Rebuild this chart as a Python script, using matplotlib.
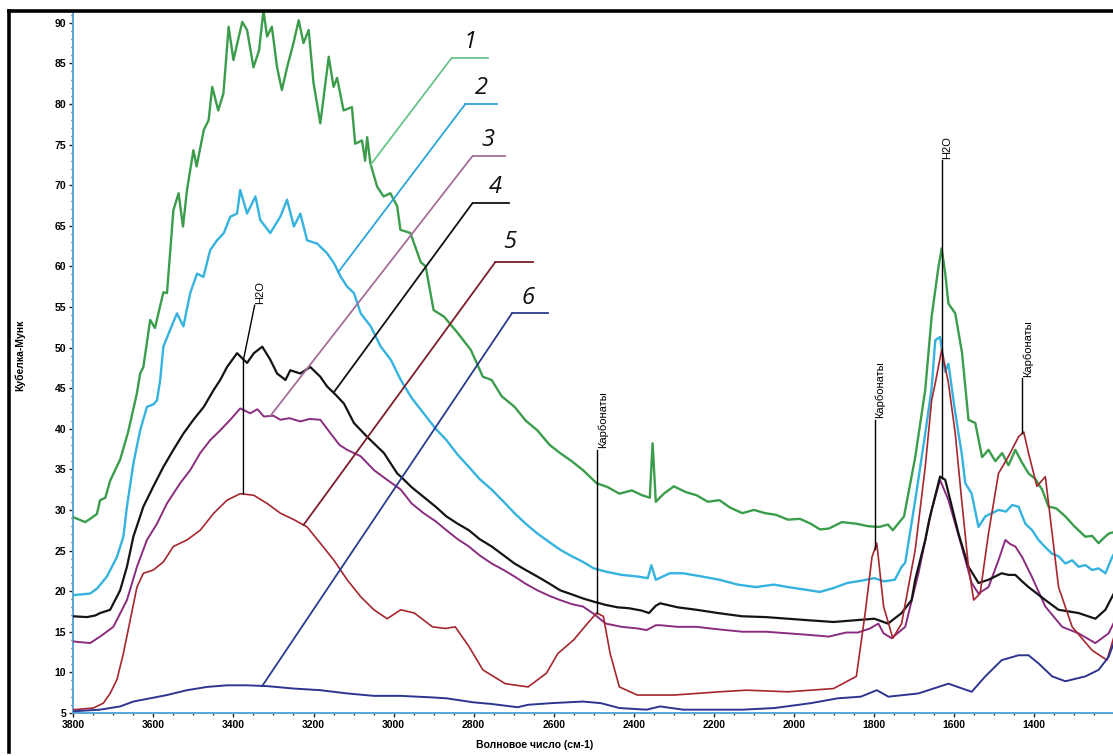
"""
DRIFT spectra (Kubelka-Munk) of six samples with the water and carbonate bands marked.
"""
import numpy as np
import matplotlib

matplotlib.use("Agg")
import matplotlib.pyplot as plt
from matplotlib.lines import Line2D
from matplotlib.ticker import MultipleLocator


OUTPUT = "out.png"
W_PX, H_PX = 1113, 756

# curve 1 (green)
WN_1 = [3800, 3770, 3755, 3741, 3733, 3720, 3708, 3683, 3663, 3641, 3633, 3625, 3608, 3596,
        3575, 3566, 3550, 3537, 3526, 3516, 3500, 3492, 3474, 3462, 3453, 3438, 3425, 3412,
        3400, 3378, 3366, 3350, 3336, 3325, 3316, 3304, 3291, 3279, 3266, 3250, 3237, 3225,
        3212, 3200, 3183, 3162, 3150, 3141, 3125, 3104, 3096, 3079, 3071, 3066, 3058, 3041,
        3025, 3008, 2991, 2983, 2958, 2932, 2920, 2900, 2874, 2840, 2807, 2777, 2755, 2730,
        2698, 2670, 2641, 2610, 2584, 2555, 2527, 2493, 2465, 2436, 2405, 2379, 2360, 2353,
        2345, 2325, 2300, 2270, 2243, 2215, 2186, 2160, 2129, 2100, 2072, 2045, 2015, 1985,
        1958, 1935, 1913, 1880, 1844, 1815, 1787, 1765, 1753, 1725, 1697, 1672, 1656, 1639,
        1631, 1622, 1614, 1597, 1580, 1564, 1547, 1530, 1514, 1497, 1480, 1464, 1447, 1430,
        1414, 1397, 1380, 1364, 1345, 1322, 1300, 1272, 1255, 1239, 1225, 1213, 1198]
KM_1 = [29.1, 28.5, 29.0, 29.5, 31.2, 31.5, 33.6, 36.2, 39.6, 44.4, 46.8, 47.6, 53.4, 52.4,
        56.8, 56.7, 66.9, 69.0, 64.9, 69.4, 74.3, 72.3, 76.8, 78.0, 82.1, 79.2, 81.3, 89.5,
        85.4, 90.1, 89.1, 84.5, 86.6, 91.5, 88.3, 89.5, 84.5, 81.7, 84.5, 87.5, 90.3, 87.5,
        89.1, 82.6, 77.6, 85.8, 82.1, 83.2, 79.2, 79.6, 75.1, 75.5, 73.0, 75.9, 72.7, 69.8,
        68.6, 69.0, 67.4, 64.5, 64.1, 60.5, 60.0, 54.6, 53.8, 51.8, 49.7, 46.4, 46.0, 44.0,
        42.7, 41.0, 39.8, 38.0, 37.0, 36.0, 34.9, 33.3, 32.8, 32.0, 32.4, 31.8, 31.5, 38.2,
        31.0, 32.0, 32.9, 32.2, 31.8, 31.0, 31.2, 30.3, 29.6, 30.0, 29.6, 29.4, 28.8, 28.9,
        28.3, 27.6, 27.7, 28.5, 28.3, 28.0, 27.9, 28.2, 27.5, 29.2, 36.5, 44.8, 53.8, 59.9,
        62.2, 59.1, 55.4, 54.2, 49.3, 41.1, 40.7, 36.5, 37.4, 36.0, 37.0, 35.5, 37.4, 35.8,
        34.5, 33.8, 32.5, 30.4, 30.2, 29.2, 28.0, 26.7, 26.8, 25.9, 26.6, 27.1, 27.3]

# curve 2 (light blue)
WN_2 = [3800, 3758, 3741, 3716, 3691, 3675, 3666, 3650, 3633, 3616, 3600, 3591, 3583, 3575,
        3558, 3541, 3525, 3508, 3491, 3475, 3458, 3441, 3424, 3408, 3391, 3383, 3366, 3345,
        3333, 3308, 3283, 3266, 3249, 3233, 3216, 3191, 3166, 3149, 3132, 3116, 3099, 3082,
        3057, 3032, 3007, 2982, 2955, 2925, 2895, 2868, 2840, 2812, 2785, 2755, 2725, 2698,
        2670, 2641, 2610, 2584, 2555, 2527, 2500, 2470, 2430, 2391, 2365, 2356, 2345, 2310,
        2277, 2230, 2186, 2140, 2095, 2050, 2015, 1975, 1935, 1900, 1867, 1830, 1799, 1775,
        1748, 1731, 1722, 1697, 1672, 1656, 1647, 1635, 1622, 1614, 1600, 1589, 1581, 1572,
        1556, 1539, 1522, 1505, 1489, 1470, 1455, 1439, 1422, 1405, 1389, 1372, 1355, 1339,
        1322, 1305, 1289, 1272, 1255, 1239, 1222, 1205, 1198]
KM_2 = [19.5, 19.7, 20.3, 21.8, 24.2, 26.7, 30.4, 35.7, 39.8, 42.7, 43.0, 43.5, 46.0, 50.1,
        52.2, 54.2, 52.6, 56.7, 59.1, 58.7, 62.0, 63.2, 64.1, 66.1, 66.5, 69.4, 66.5, 68.6,
        65.7, 64.1, 66.1, 68.2, 64.9, 66.5, 63.2, 62.8, 61.6, 60.4, 58.7, 57.5, 56.7, 54.2,
        52.6, 50.1, 48.5, 46.0, 43.8, 41.9, 40.0, 38.6, 36.8, 35.3, 33.8, 32.5, 31.0, 29.6,
        28.3, 27.1, 26.0, 25.1, 24.3, 23.6, 22.8, 22.4, 22.0, 21.8, 21.6, 23.2, 21.4, 22.2,
        22.2, 21.8, 21.4, 20.8, 20.5, 20.8, 20.5, 20.2, 19.9, 20.4, 21.0, 21.3, 21.6, 21.2,
        21.4, 23.0, 23.5, 31.2, 39.4, 45.0, 50.9, 51.3, 47.0, 48.0, 43.0, 39.4, 37.0, 33.3,
        32.0, 27.9, 29.2, 29.6, 30.0, 29.8, 30.6, 30.4, 28.3, 27.5, 26.3, 25.4, 24.6, 24.3,
        23.4, 23.8, 23.0, 23.2, 22.6, 22.8, 22.2, 24.2, 24.8]

# curve 3 (purple)
WN_3 = [3800, 3758, 3733, 3700, 3666, 3641, 3616, 3591, 3566, 3533, 3508, 3483, 3458, 3433,
        3408, 3383, 3358, 3340, 3324, 3300, 3283, 3260, 3233, 3210, 3183, 3157, 3135, 3116,
        3082, 3049, 3016, 2982, 2955, 2925, 2895, 2868, 2840, 2812, 2785, 2755, 2725, 2698,
        2670, 2641, 2610, 2584, 2555, 2527, 2500, 2470, 2430, 2390, 2368, 2345, 2334, 2290,
        2243, 2190, 2129, 2070, 2015, 1960, 1913, 1870, 1840, 1810, 1789, 1776, 1756, 1722,
        1689, 1656, 1635, 1614, 1581, 1556, 1539, 1514, 1489, 1472, 1460, 1447, 1430, 1406,
        1372, 1330, 1289, 1247, 1214, 1198]
KM_3 = [13.8, 13.6, 14.4, 15.6, 18.9, 23.0, 26.3, 28.3, 30.8, 33.3, 34.9, 37.0, 38.6, 39.8,
        41.1, 42.5, 41.9, 42.4, 41.5, 41.6, 41.1, 41.3, 40.9, 41.2, 41.1, 39.4, 38.0, 37.4,
        36.6, 34.9, 33.7, 32.5, 30.8, 29.6, 28.6, 27.5, 26.4, 25.5, 24.4, 23.4, 22.6, 21.8,
        20.9, 20.1, 19.4, 18.9, 18.4, 18.1, 17.2, 16.0, 15.6, 15.4, 15.2, 15.8, 15.8, 15.6,
        15.6, 15.3, 15.0, 15.0, 14.8, 14.6, 14.4, 14.9, 14.9, 15.4, 16.0, 14.8, 14.2, 15.6,
        22.2, 30.0, 33.7, 31.2, 25.5, 21.0, 19.7, 20.5, 23.8, 26.3, 25.8, 25.5, 24.2, 21.8,
        18.1, 15.6, 14.8, 13.6, 14.8, 16.4]

# curve 4 (black)
WN_4 = [3800, 3766, 3745, 3733, 3708, 3683, 3666, 3650, 3625, 3600, 3575, 3550, 3525, 3500,
        3474, 3449, 3433, 3416, 3391, 3366, 3349, 3328, 3308, 3291, 3270, 3258, 3233, 3208,
        3183, 3166, 3145, 3124, 3099, 3066, 3024, 2991, 2982, 2955, 2925, 2895, 2868, 2840,
        2812, 2785, 2755, 2725, 2698, 2670, 2641, 2610, 2584, 2555, 2527, 2500, 2470, 2440,
        2413, 2380, 2362, 2345, 2334, 2290, 2243, 2190, 2129, 2070, 2015, 1960, 1901, 1850,
        1799, 1765, 1731, 1706, 1697, 1672, 1662, 1635, 1622, 1589, 1564, 1539, 1514, 1481,
        1464, 1447, 1430, 1414, 1372, 1339, 1289, 1247, 1222, 1201]
KM_4 = [16.9, 16.8, 17.0, 17.3, 17.7, 20.1, 23.0, 26.7, 30.4, 32.9, 35.3, 37.4, 39.4, 41.1,
        42.7, 44.8, 46.0, 47.6, 49.3, 48.1, 49.3, 50.1, 48.5, 46.8, 46.0, 47.2, 46.8, 47.6,
        46.4, 45.2, 44.2, 43.1, 40.7, 39.0, 37.0, 34.5, 34.1, 32.8, 31.6, 30.4, 29.2, 28.3,
        27.5, 26.4, 25.5, 24.4, 23.4, 22.6, 21.8, 20.9, 20.1, 19.6, 19.1, 18.7, 18.3, 18.0,
        17.9, 17.6, 17.3, 18.2, 18.5, 18.0, 17.7, 17.3, 16.9, 16.8, 16.6, 16.4, 16.2, 16.4,
        16.6, 16.0, 17.3, 18.9, 21.4, 26.3, 28.8, 34.1, 33.7, 27.1, 23.0, 21.0, 21.4, 22.2,
        22.0, 22.0, 21.2, 20.5, 18.9, 17.7, 17.3, 16.6, 17.7, 19.7]

# curve 5 (dark red)
WN_5 = [3800, 3750, 3725, 3708, 3691, 3675, 3658, 3641, 3625, 3600, 3575, 3550, 3516, 3483,
        3449, 3416, 3383, 3349, 3316, 3283, 3249, 3216, 3183, 3149, 3116, 3082, 3049, 3016,
        2982, 2948, 2903, 2870, 2846, 2812, 2777, 2721, 2664, 2618, 2590, 2550, 2516, 2493,
        2476, 2459, 2436, 2391, 2300, 2186, 2118, 2015, 1901, 1844, 1822, 1805, 1793, 1776,
        1753, 1731, 1697, 1672, 1656, 1647, 1631, 1614, 1597, 1581, 1564, 1551, 1535, 1514,
        1489, 1464, 1439, 1426, 1414, 1393, 1372, 1355, 1339, 1305, 1255, 1218, 1198]
KM_5 = [5.4, 5.6, 6.2, 7.4, 9.1, 12.3, 16.4, 20.5, 22.2, 22.6, 23.6, 25.5, 26.3, 27.5,
        29.6, 31.2, 32.0, 31.8, 30.8, 29.6, 28.8, 27.9, 25.9, 23.8, 21.4, 19.3, 17.7, 16.6,
        17.7, 17.3, 15.6, 15.4, 15.6, 13.2, 10.3, 8.6, 8.2, 9.9, 12.3, 14.0, 16.0, 17.3,
        16.9, 12.3, 8.2, 7.2, 7.2, 7.6, 7.8, 7.6, 8.0, 9.5, 17.3, 24.2, 25.9, 18.1,
        14.2, 16.0, 25.1, 35.3, 43.5, 45.6, 49.7, 45.6, 39.4, 31.2, 23.0, 18.9, 19.7, 27.1,
        34.5, 36.6, 39.0, 39.6, 37.0, 32.9, 34.1, 27.1, 20.5, 15.6, 12.7, 11.5, 14.8]

# curve 6 (navy)
WN_6 = [3800, 3733, 3683, 3650, 3608, 3566, 3516, 3466, 3416, 3366, 3316, 3249, 3183, 3116,
        3049, 2982, 2900, 2868, 2800, 2755, 2690, 2664, 2607, 2527, 2482, 2436, 2368, 2334,
        2277, 2129, 2049, 1958, 1890, 1833, 1793, 1764, 1689, 1614, 1556, 1522, 1481, 1439,
        1414, 1389, 1355, 1322, 1272, 1239, 1214, 1198]
KM_6 = [5.2, 5.4, 5.8, 6.4, 6.8, 7.2, 7.8, 8.2, 8.4, 8.4, 8.3, 8.0, 7.8, 7.4,
        7.1, 7.1, 6.9, 6.8, 6.3, 6.1, 5.7, 6.0, 6.2, 6.4, 6.2, 5.6, 5.4, 5.8,
        5.4, 5.4, 5.6, 6.2, 6.8, 7.0, 7.8, 7.0, 7.4, 8.6, 7.6, 9.5, 11.5, 12.1,
        12.1, 11.1, 9.5, 8.9, 9.5, 10.3, 11.9, 14.0]

CURVES = {
    "1": (WN_1, KM_1),
    "2": (WN_2, KM_2),
    "3": (WN_3, KM_3),
    "4": (WN_4, KM_4),
    "5": (WN_5, KM_5),
    "6": (WN_6, KM_6),
}
CURVE_STYLE = {
    "1": {"color": "#3b9d4c", "lw": 1.7},
    "2": {"color": "#35b3de", "lw": 1.7},
    "3": {"color": "#8a2c80", "lw": 1.4},
    "4": {"color": "#141414", "lw": 1.6},
    "5": {"color": "#a5262f", "lw": 1.2},
    "6": {"color": "#2e3590", "lw": 1.4},
}

# leader lines: curve, wavenumber on curve, elbow and text in axes fraction
LEADERS = [
    ("1", 3057, (0.364, 0.934), 0.399, (0.382, 0.957), "#68c48a"),
    ("2", 3138, (0.377, 0.868), 0.408, (0.393, 0.891), "#2ba6d8"),
    ("3", 3308, (0.384, 0.794), 0.415, (0.399, 0.817), "#a56e98"),
    ("4", 3150, (0.384, 0.727), 0.419, (0.406, 0.750), "#111111"),
    ("5", 3225, (0.406, 0.643), 0.442, (0.420, 0.671), "#7c1e2c"),
    ("6", 3328, (0.422, 0.570), 0.457, (0.437, 0.592), "#2b3a8c"),
]

# band marks: text, wavenumber, curve it starts on, top of the line, kink
BANDS = [
    ("H2O", 3375, "5", 55.2, (48.5, 3347)),
    ("Карбонаты", 2492, "5", 37.4, None),
    ("Карбонаты", 1798, "5", 41.1, None),
    ("H2O", 1631, "4", 73.1, None),
    ("Карбонаты", 1430, "5", 46.2, None),
]


def value_at(key, wn):
    xs, ys = CURVES[key]
    return float(np.interp(wn, xs[::-1], ys[::-1]))


def main():
    plt.rcParams["font.family"] = ["Liberation Sans", "DejaVu Sans"]
    fig = plt.figure(figsize=(W_PX / 100, H_PX / 100), dpi=100)
    ax = fig.add_axes([73.3 / W_PX, 43 / H_PX, 1039.7 / W_PX, 701.5 / H_PX])

    for key, (xs, ys) in CURVES.items():
        ax.plot(xs, ys, solid_joinstyle="round", **CURVE_STYLE[key], zorder=3)

    ax.set_xlim(3800, 1203)
    ax.set_ylim(4.99, 91.38)

    ax.xaxis.set_major_locator(MultipleLocator(200))
    ax.xaxis.set_minor_locator(MultipleLocator(50))
    ax.yaxis.set_major_locator(MultipleLocator(5))
    ax.yaxis.set_minor_locator(MultipleLocator(1))
    ax.tick_params(which="major", length=3, width=1, color="#222222",
                   labelsize=7.5, pad=2)
    ax.tick_params(which="minor", length=1.5, width=1, color="#333333")
    for lab in ax.get_xticklabels() + ax.get_yticklabels():
        lab.set_fontweight("bold")

    for side in ("top", "right"):
        ax.spines[side].set_visible(False)
    for side in ("left", "bottom"):
        ax.spines[side].set_color("#5aa6d6")
        ax.spines[side].set_linewidth(1.4)

    fig.text(20 / W_PX, 1 - 355 / H_PX, "Кубелка-Мунк", rotation=90,
             ha="center", va="center", fontsize=7.5, fontweight="bold")
    fig.text(535 / W_PX, 1 - 745 / H_PX, "Волновое число (см-1)",
             ha="center", va="center", fontsize=7.5, fontweight="bold")

    # outer frame
    fig.add_artist(Line2D([9 / W_PX, 9 / W_PX], [1 - 752 / H_PX, 1 - 11 / H_PX],
                          transform=fig.transFigure, color="black", lw=2.6))
    fig.add_artist(Line2D([9 / W_PX, 1.0], [1 - 11 / H_PX, 1 - 11 / H_PX],
                          transform=fig.transFigure, color="black", lw=2.6))

    # numbered leader lines
    for key, wn, elbow, end_x, text_pos, color in LEADERS:
        y = value_at(key, wn)
        ax.annotate("", xy=(wn, y), xycoords="data", xytext=elbow,
                    textcoords="axes fraction",
                    arrowprops=dict(arrowstyle="-", color=color, lw=1.3,
                                    shrinkA=0, shrinkB=0))
        ax.plot([elbow[0], end_x], [elbow[1], elbow[1]], color=color, lw=1.3,
                transform=ax.transAxes, clip_on=False, zorder=4)
        ax.text(*text_pos, key, transform=ax.transAxes, ha="center", va="center",
                fontsize=17, fontstyle="italic", family="Open Sans", color="#111111")

    # band marks
    for label, wn, key, top, kink in BANDS:
        y0 = value_at(key, wn)
        if kink:
            xs = [wn, wn, kink[1]]
            ys = [y0, kink[0], top]
        else:
            xs = [wn, wn]
            ys = [y0, top]
        ax.plot(xs, ys, color="black", lw=1.0, zorder=5)
        ax.annotate(label, xy=(xs[-1], top), xytext=(4, 1), textcoords="offset points",
                    rotation=90, ha="center", va="bottom", fontsize=8)

    fig.savefig(OUTPUT, dpi=100, facecolor="white")


if __name__ == "__main__":
    main()
